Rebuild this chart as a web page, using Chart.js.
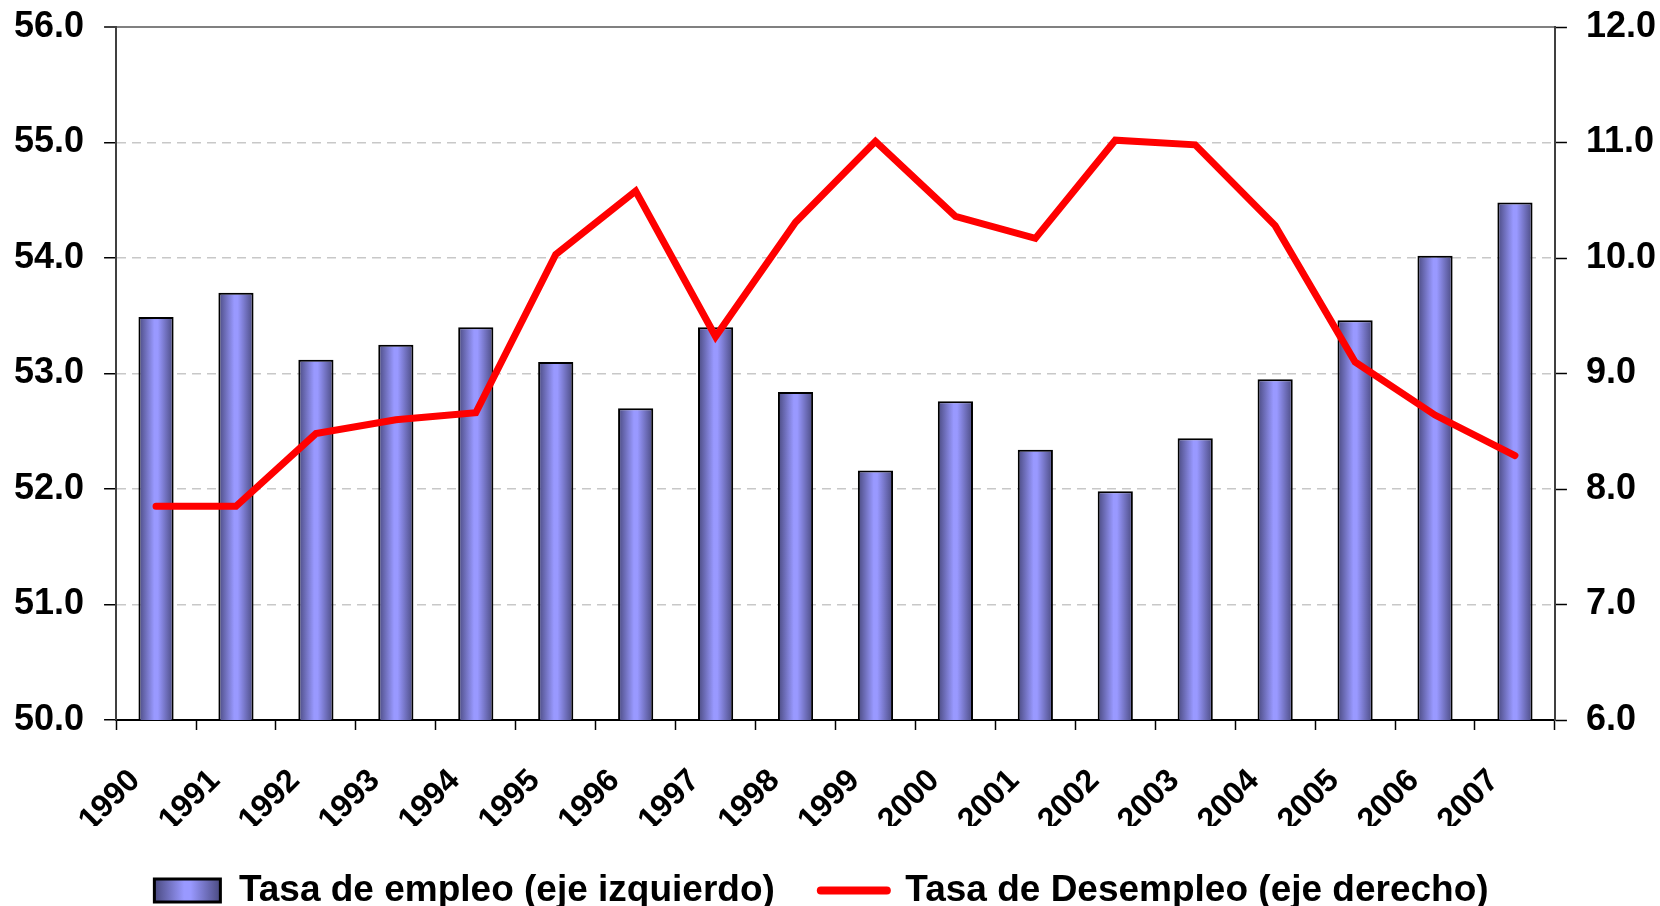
<!DOCTYPE html>
<html>
<head>
<meta charset="utf-8">
<script src="https://cdn.jsdelivr.net/npm/chart.js@4/dist/chart.umd.min.js"></script>
<style>
  html, body { margin: 0; padding: 0; background: #fff; }
  #wrap { width: 1660px; height: 906px; }
</style>
</head>
<body>
<div id="wrap"><canvas id="chart" width="1660" height="906"></canvas></div>
<script>
// values
const years = ['1990','1991','1992','1993','1994','1995','1996','1997','1998','1999',
               '2000','2001','2002','2003','2004','2005','2006','2007'];
const empleo = [53.49, 53.70, 53.12, 53.25, 53.40, 53.10, 52.70, 53.40, 52.84, 52.16,
                52.76, 52.34, 51.98, 52.44, 52.95, 53.46, 54.02, 54.48];
const desempleo = [7.85, 7.85, 8.48, 8.60, 8.66, 10.03, 10.58, 9.32, 10.31, 11.01,
                   10.36, 10.17, 11.02, 10.98, 10.28, 9.10, 8.64, 8.29];
const leftTicks = [50, 51, 52, 53, 54, 55, 56];
const rightTicks = [6, 7, 8, 9, 10, 11, 12];

const FONT = "'Liberation Sans', Arial, sans-serif";
const BAR_PCT = 0.44;

function barGradient(ctx, x0, x1){
  if (!isFinite(x0) || !isFinite(x1) || x1 <= x0) return '#9999ff';
  const g = ctx.createLinearGradient(x0, 0, x1, 0);
  g.addColorStop(0, '#4a4a80');
  g.addColorStop(0.45, '#9999ff');
  g.addColorStop(0.55, '#9999ff');
  g.addColorStop(1, '#4a4a80');
  return g;
}

// nudge the legend a bit left, like the original, and give the bar swatch its gradient
const legendTweaks = {
  id: 'legendTweaks',
  afterLayout(chart){
    const lg = chart.legend;
    if (!lg) return;
    lg.left -= 13;
    lg.right -= 13;
    if (lg.adjustHitBoxes) lg.adjustHitBoxes();
  },
  beforeDraw(chart){
    const lg = chart.legend;
    if (!lg || !lg.legendHitBoxes || !lg.legendItems) return;
    lg.legendItems.forEach((item, i) => {
      if (item.datasetIndex !== 0) return;
      const hb = lg.legendHitBoxes[i];
      if (hb) item.fillStyle = barGradient(chart.ctx, hb.left, hb.left + 66);
    });
  }
};

const noOverhang = (s) => { s.paddingTop = 0; s.paddingBottom = 0; };

const ctx = document.getElementById('chart').getContext('2d');
new Chart(ctx, {
  data: {
    labels: years,
    datasets: [
      {
        type: 'bar',
        label: 'Tasa de empleo (eje izquierdo)',
        data: empleo,
        yAxisID: 'y',
        order: 1,
        borderColor: '#000',
        borderWidth: 2,
        borderSkipped: 'bottom',
        barPercentage: BAR_PCT,
        categoryPercentage: 1,
        backgroundColor: (c) => {
          const xs = c.chart.scales && c.chart.scales.x;
          if (!xs || c.dataIndex === undefined || !xs.width) return '#9999ff';
          const cx = xs.getPixelForValue(c.dataIndex);
          const half = xs.width / years.length * BAR_PCT / 2;
          return barGradient(c.chart.ctx, cx - half, cx + half);
        }
      },
      {
        type: 'line',
        label: 'Tasa de Desempleo (eje derecho)',
        data: desempleo,
        yAxisID: 'y1',
        order: 0,
        borderColor: '#ff0000',
        backgroundColor: '#ff0000',
        borderWidth: 7,
        borderCapStyle: 'round',
        pointRadius: 0,
        tension: 0
      }
    ]
  },
  options: {
    responsive: false,
    animation: false,
    layout: { padding: { left: -6, right: -15, top: 27, bottom: -13 } },
    plugins: {
      tooltip: { enabled: false },
      legend: {
        position: 'bottom',
        labels: {
          usePointStyle: true,
          pointStyleWidth: 66,
          boxHeight: 23,
          padding: 46,
          color: '#000',
          font: { family: FONT, size: 37, weight: 'bold' },
          generateLabels(chart){
            const items = Chart.defaults.plugins.legend.labels.generateLabels(chart);
            items.sort((a, b) => a.datasetIndex - b.datasetIndex);
            items.forEach(it => {
              if (it.datasetIndex === 0){
                it.pointStyle = 'rect';
                it.fillStyle = '#9999ff';
                it.strokeStyle = '#000';
                it.lineWidth = 3;
              } else {
                it.pointStyle = 'line';
                it.strokeStyle = '#ff0000';
                it.lineWidth = 8;
                it.lineCap = 'round';
              }
            });
            return items;
          }
        }
      }
    },
    scales: {
      x: {
        offset: true,
        afterFit: (s) => { s.paddingLeft = 0; s.paddingRight = 0; s.height = 106; },
        grid: { offset: true, drawOnChartArea: false, tickLength: 10, tickColor: '#000', tickWidth: 1.5 },
        border: { color: '#000', width: 2 },
        ticks: {
          autoSkip: false,
          maxRotation: 45,
          minRotation: 45,
          padding: 32,
          labelOffset: -21,
          color: '#000',
          font: { family: FONT, size: 32, weight: 'bold' }
        }
      },
      y: {
        position: 'left',
        min: 50, max: 56,
        afterBuildTicks: (s) => { s.ticks = leftTicks.map(v => ({ value: v })); },
        afterFit: noOverhang,
        ticks: {
          padding: 20,
          color: '#000',
          font: { family: FONT, size: 36, weight: 'bold' },
          callback: (v) => Number(v).toFixed(1)
        },
        grid: {
          color: (c) => c.tick && c.tick.value === 56 ? '#808080' : (c.tick && c.tick.value === 50 ? 'rgba(0,0,0,0)' : '#c8c8c8'),
          lineWidth: (c) => c.tick && c.tick.value === 56 ? 2 : 1.5,
          tickLength: 12,
          tickColor: '#000',
          tickWidth: 1.5
        },
        border: {
          color: '#404040',
          width: 2,
          dash: (c) => c.tick && c.tick.value !== 56 ? [9, 6] : []
        }
      },
      y1: {
        position: 'right',
        min: 6, max: 12,
        afterBuildTicks: (s) => { s.ticks = rightTicks.map(v => ({ value: v })); },
        afterFit: noOverhang,
        ticks: {
          padding: 19,
          color: '#000',
          font: { family: FONT, size: 36, weight: 'bold' },
          callback: (v) => Number(v).toFixed(1)
        },
        grid: { drawOnChartArea: false, tickLength: 12, tickColor: '#000', tickWidth: 1.5 },
        border: { color: '#404040', width: 2 }
      }
    }
  },
  plugins: [legendTweaks]
});
</script>
</body>
</html>
